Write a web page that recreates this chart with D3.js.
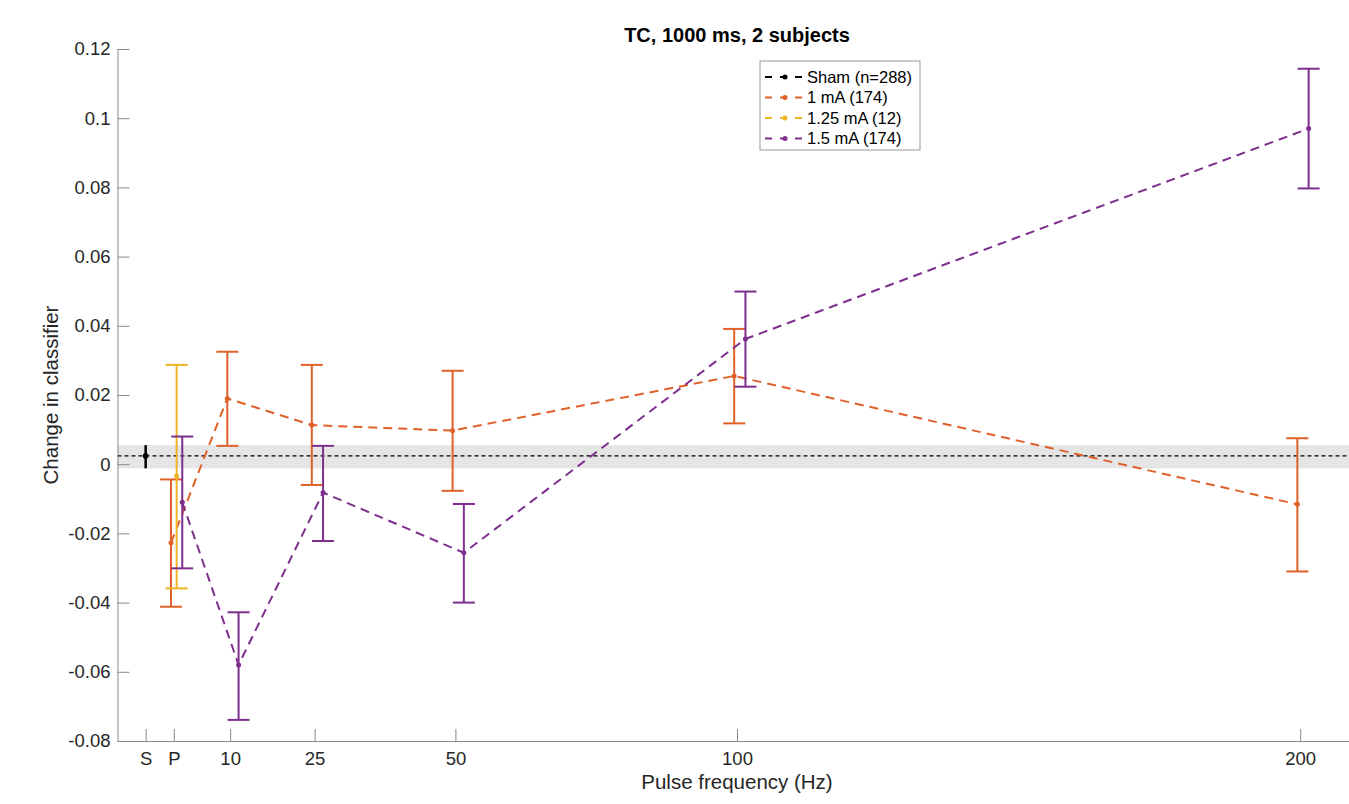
<!DOCTYPE html>
<html>
<head>
<meta charset="utf-8">
<script src="https://cdn.jsdelivr.net/npm/d3@7"></script>
<style>
    body { margin: 0; background: #fff; }
    svg { display: block; font-family: "Liberation Sans", Arial, Helvetica, sans-serif; }
</style>
</head>
<body>
<svg id="chart" width="1349" height="804"></svg>
<script>
// x axis: S = sham, P = pre-stim, then pulse frequencies in Hz
const xTickValues = [-5, 0, 10, 25, 50, 100, 200];
const xTickLabels = ['S', 'P', '10', '25', '50', '100', '200'];

const yTickValues = [-0.08, -0.06, -0.04, -0.02, 0, 0.02, 0.04, 0.06, 0.08, 0.1, 0.12];
const yTickLabels = ['-0.08', '-0.06', '-0.04', '-0.02', '0', '0.02', '0.04', '0.06', '0.08', '0.1', '0.12'];

// sham mean and its error range (also drawn as the grey band)
const shamMean = 0.0024;
const shamLow = -0.0012;
const shamHigh = 0.0055;

const stimFreqs = [0, 10, 25, 50, 100, 200];

// 1 mA
const mean1mA = [-0.0227, 0.0190, 0.0113, 0.0097, 0.0255, -0.0116];
const low1mA  = [-0.0412, 0.0053, -0.0060, -0.0077, 0.0118, -0.0310];
const high1mA = [-0.0044, 0.0325, 0.0287, 0.0270, 0.0391, 0.0075];

// 1.25 mA (only measured at P)
const freqs125mA = [0];
const mean125mA = [-0.0034];
const low125mA  = [-0.0359];
const high125mA = [0.0287];

// 1.5 mA
const mean15mA = [-0.0110, -0.0580, -0.0082, -0.0256, 0.0362, 0.0970];
const low15mA  = [-0.0301, -0.0739, -0.0222, -0.0400, 0.0224, 0.0797];
const high15mA = [0.0080, -0.0428, 0.0053, -0.0115, 0.0499, 0.1143];

const legendLabels = ['Sham (n=288)', '1 mA (174)', '1.25 mA (12)', '1.5 mA (174)'];

const colors = {
    sham: '#000000',
    one: '#E0602A',
    onequarter: '#F0B323',
    onehalf: '#7E2F8E'
};

// series are nudged a little sideways so the bars don't overlap
let series = [
    {name: legendLabels[1], color: colors.one, shift: -0.5, freqs: stimFreqs, mean: mean1mA, low: low1mA, high: high1mA},
    {name: legendLabels[2], color: colors.onequarter, shift: 0.5, freqs: freqs125mA, mean: mean125mA, low: low125mA, high: high125mA},
    {name: legendLabels[3], color: colors.onehalf, shift: 1.5, freqs: stimFreqs, mean: mean15mA, low: low15mA, high: high15mA}
];

let svg = d3.select('#chart');

let plot = {
    left: 117.5,
    right: 1356.5,
    top: 49,
    bottom: 741,
    tick: 12,
    cap: 11
};

let x = d3.scaleLinear()
    .domain([-10, 210])
    .range([plot.left, plot.right]);

let y = d3.scaleLinear()
    .domain([-0.08, 0.12])
    .range([plot.bottom, plot.top]);

// sham band + mean line
svg.append('rect')
    .attr('x', x(-10))
    .attr('y', y(shamHigh))
    .attr('width', x(210) - x(-10))
    .attr('height', y(shamLow) - y(shamHigh))
    .style('fill', '#e5e5e5');

svg.append('line')
    .attr('x1', x(-10))
    .attr('x2', x(210))
    .attr('y1', y(shamMean))
    .attr('y2', y(shamMean))
    .style('stroke', '#000')
    .style('stroke-width', 1.2)
    .style('stroke-dasharray', '4,3');

// axes
let axisColor = '#8a8a8a';
let textColor = '#262626';

let yAxis = d3.axisLeft(y)
    .tickValues(yTickValues)
    .tickFormat((d, i) => yTickLabels[i])
    .tickSizeInner(-plot.tick)
    .tickSizeOuter(0)
    .tickPadding(7);

let xAxis = d3.axisBottom(x)
    .tickValues(xTickValues)
    .tickFormat((d, i) => xTickLabels[i])
    .tickSizeInner(-plot.tick)
    .tickSizeOuter(0)
    .tickPadding(11);

let yg = svg.append('g')
    .attr('transform', `translate(${plot.left}, 0)`)
    .call(yAxis);

let xg = svg.append('g')
    .attr('transform', `translate(0, ${plot.bottom})`)
    .call(xAxis);

[yg, xg].forEach(g => {
    g.select('.domain').style('stroke', axisColor);
    g.selectAll('.tick line').style('stroke', axisColor);
    g.selectAll('.tick text')
        .style('font-size', '18.5px')
        .style('fill', textColor)
        .style('font-family', '"Liberation Sans", Arial, sans-serif');
});

// sham error bar (no caps)
svg.append('line')
    .attr('x1', x(-5))
    .attr('x2', x(-5))
    .attr('y1', y(shamLow))
    .attr('y2', y(shamHigh))
    .style('stroke', colors.sham)
    .style('stroke-width', 2.5);

svg.append('circle')
    .attr('cx', x(-5))
    .attr('cy', y(shamMean))
    .attr('r', 2.8)
    .style('fill', colors.sham);

// stim series
let line = d3.line()
    .x(d => d.x)
    .y(d => d.y);

let groups = svg.selectAll('g.series')
    .data(series)
    .join('g')
        .attr('class', 'series');

groups.each(function(s) {
    let g = d3.select(this);
    let pts = s.freqs.map((f, i) => ({
        x: x(f + s.shift),
        y: y(s.mean[i]),
        lo: y(s.low[i]),
        hi: y(s.high[i])
    }));

    g.append('path')
        .attr('d', line(pts))
        .style('fill', 'none')
        .style('stroke', s.color)
        .style('stroke-width', 2)
        .style('stroke-dasharray', '9,6');

    let bars = g.selectAll('g.bar')
        .data(pts)
        .join('g')
            .attr('class', 'bar')
            .style('stroke', s.color)
            .style('stroke-width', 2);

    bars.append('line')
        .attr('x1', d => d.x)
        .attr('x2', d => d.x)
        .attr('y1', d => d.lo)
        .attr('y2', d => d.hi);

    bars.append('line')
        .attr('x1', d => d.x - plot.cap)
        .attr('x2', d => d.x + plot.cap)
        .attr('y1', d => d.hi)
        .attr('y2', d => d.hi);

    bars.append('line')
        .attr('x1', d => d.x - plot.cap)
        .attr('x2', d => d.x + plot.cap)
        .attr('y1', d => d.lo)
        .attr('y2', d => d.lo);

    g.selectAll('circle')
        .data(pts)
        .join('circle')
            .attr('cx', d => d.x)
            .attr('cy', d => d.y)
            .attr('r', 2.5)
            .style('fill', s.color);
});

// axis labels + title
svg.append('text')
    .attr('x', (plot.left + plot.right) / 2)
    .attr('y', 42)
    .attr('text-anchor', 'middle')
    .style('font-size', '20px')
    .style('font-weight', 'bold')
    .style('fill', '#000')
    .text('TC, 1000 ms, 2 subjects');

svg.append('text')
    .attr('x', (plot.left + plot.right) / 2)
    .attr('y', 789)
    .attr('text-anchor', 'middle')
    .style('font-size', '20.5px')
    .style('fill', textColor)
    .text('Pulse frequency (Hz)');

svg.append('text')
    .attr('transform', `translate(58, ${(plot.top + plot.bottom) / 2}) rotate(-90)`)
    .attr('text-anchor', 'middle')
    .style('font-size', '20.5px')
    .style('fill', textColor)
    .text('Change in classifier');

// legend
let legendColors = [colors.sham, colors.one, colors.onequarter, colors.onehalf];
let legend = svg.append('g')
    .attr('transform', 'translate(760, 61)');

legend.append('rect')
    .attr('width', 160)
    .attr('height', 89)
    .style('fill', '#fff')
    .style('stroke', '#9a9a9a')
    .style('stroke-width', 1);

let rows = legend.selectAll('g.row')
    .data(legendLabels)
    .join('g')
        .attr('class', 'row')
        .attr('transform', (d, i) => `translate(0, ${16 + i * 20.5})`);

rows.append('line')
    .attr('x1', 5)
    .attr('x2', 42)
    .style('stroke', (d, i) => legendColors[i])
    .style('stroke-width', 2)
    .style('stroke-dasharray', '7,8');

rows.append('circle')
    .attr('cx', 25)
    .attr('r', 2.5)
    .style('fill', (d, i) => legendColors[i]);

rows.append('text')
    .attr('x', 47)
    .attr('dy', '0.35em')
    .style('font-size', '16.5px')
    .style('fill', '#000')
    .text(d => d);
</script>
</body>
</html>
